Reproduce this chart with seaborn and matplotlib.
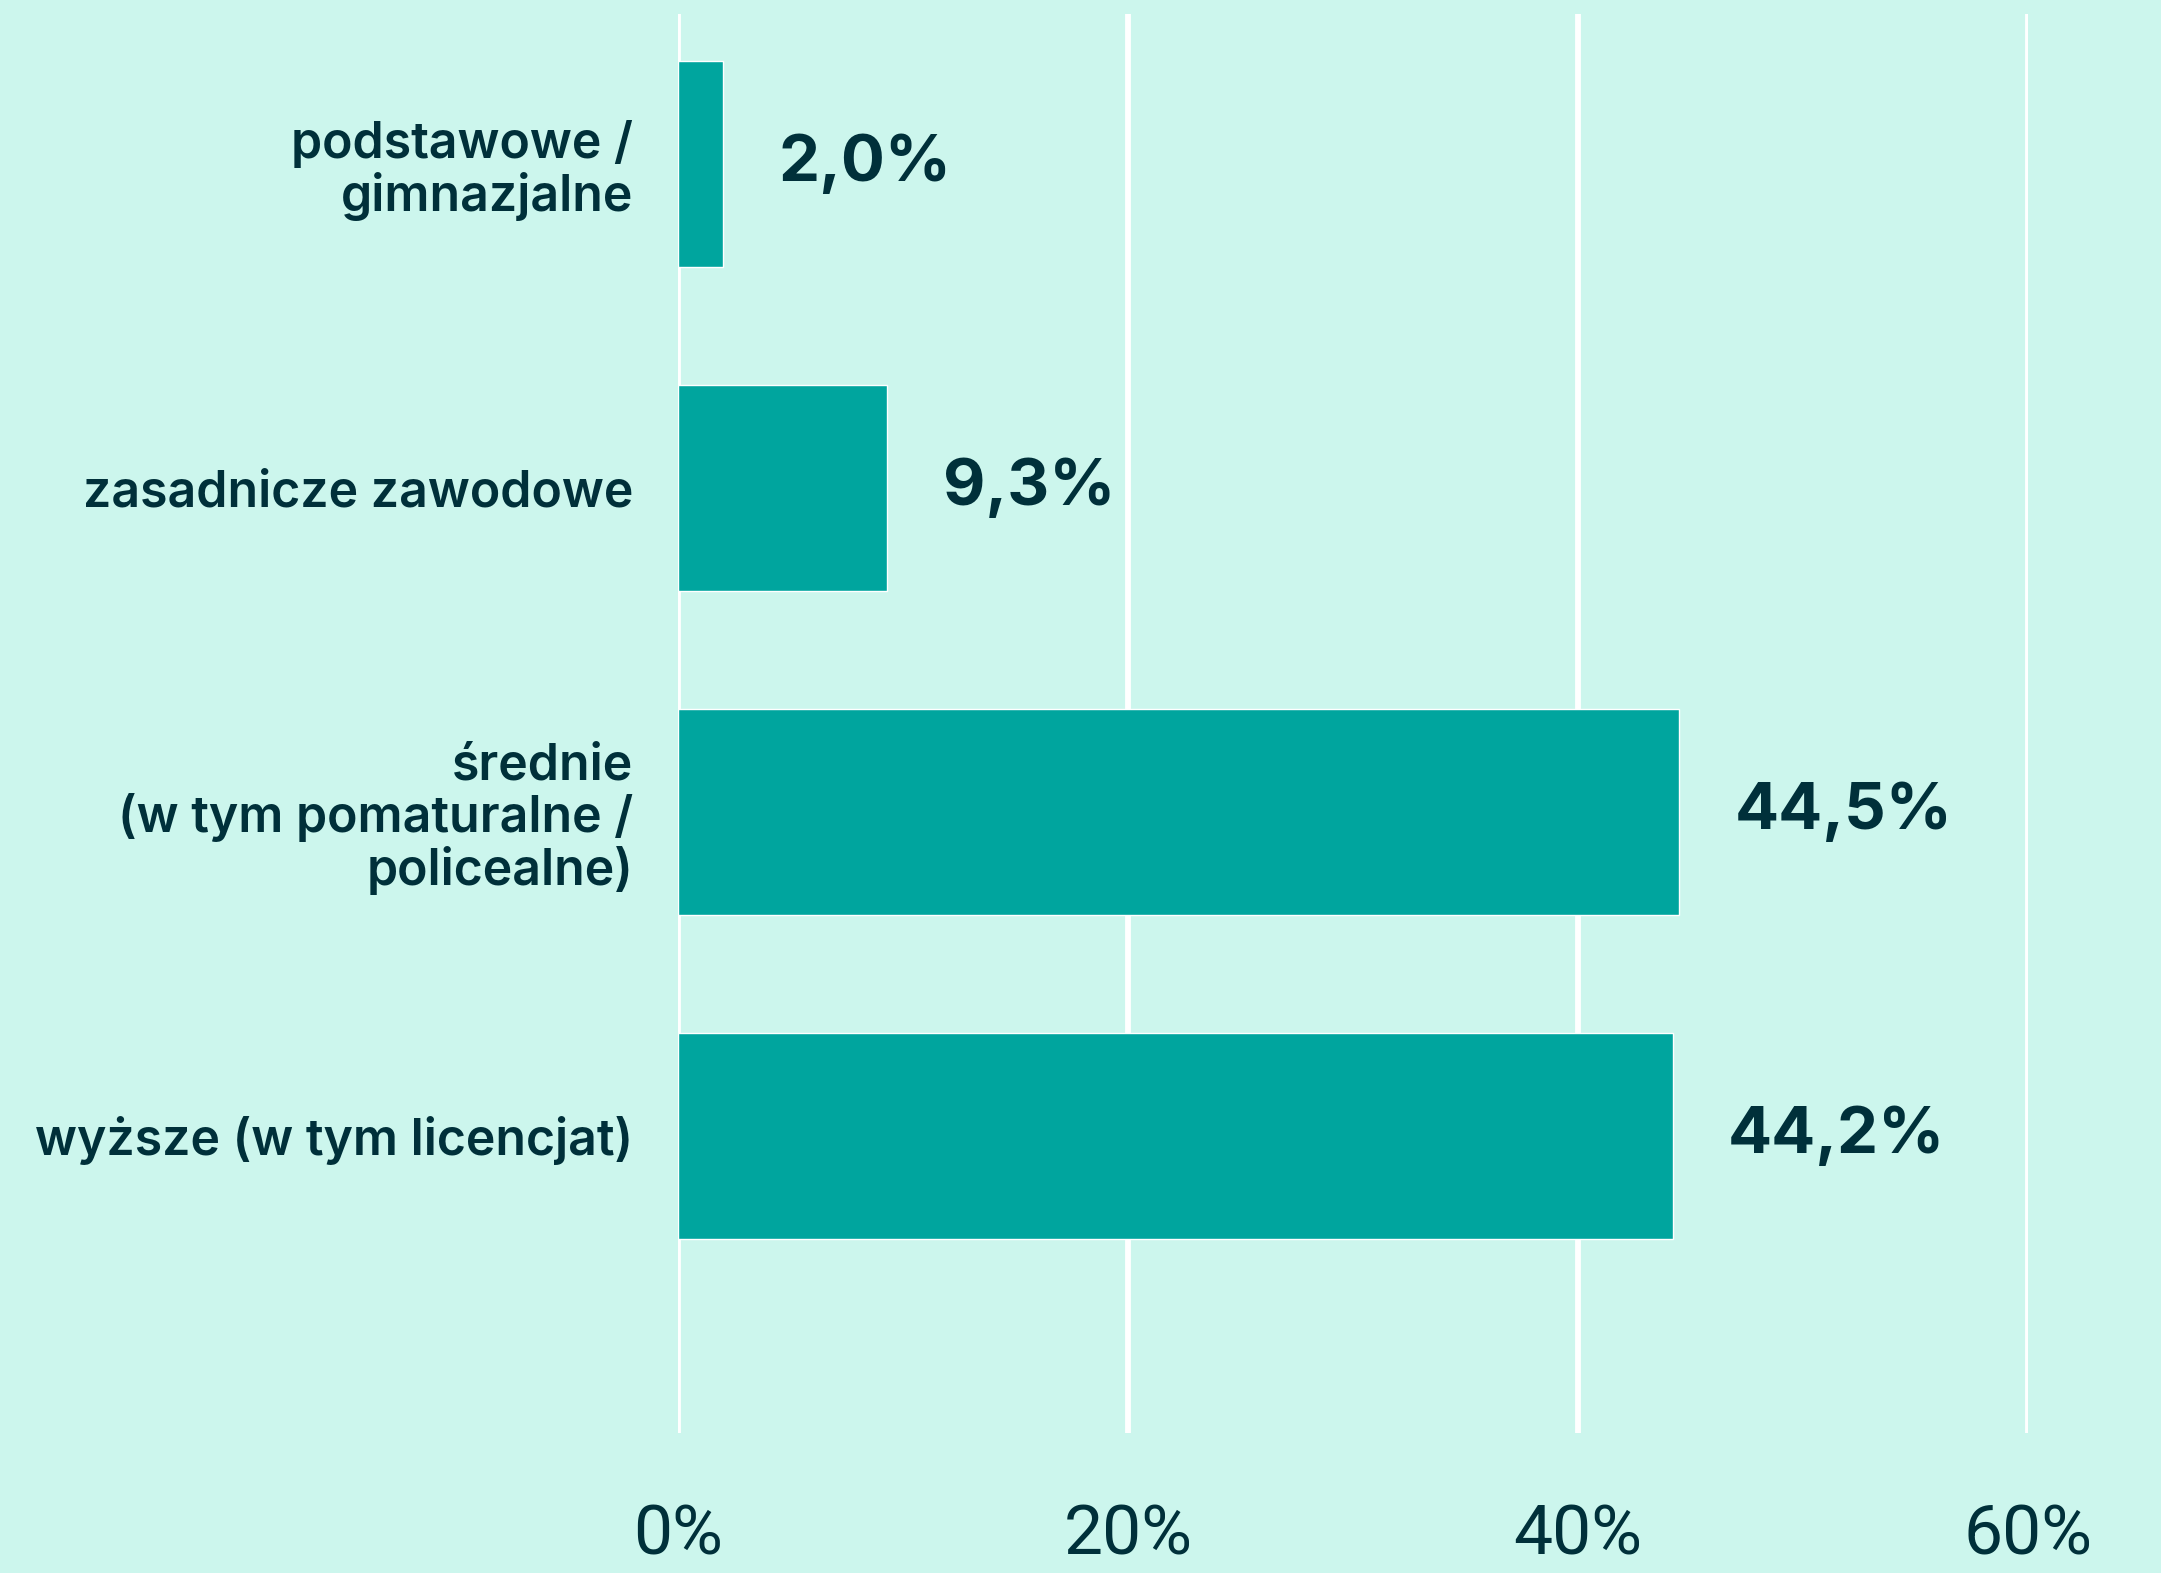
import matplotlib
matplotlib.use("Agg")
import matplotlib.pyplot as plt
import seaborn as sns
import pandas as pd

# data
categories = [
    "podstawowe /\ngimnazjalne",
    "zasadnicze zawodowe",
    "średnie\n(w tym pomaturalne /\npolicealne)",
    "wyższe (w tym licencjat)",
]
shares = [2.0, 9.3, 44.5, 44.2]
xticks = [0, 20, 40, 60]
xtick_labels = ["0%", "20%", "40%", "60%"]

BG = "#CCF6ED"
BAR = "#00A59E"
TXT = "#00303A"

df = pd.DataFrame({"cat": categories, "share": shares})

sns.set_style("white")
plt.rcParams["font.family"] = ["Inter", "DejaVu Sans"]

fig = plt.figure(figsize=(21.61, 15.73), dpi=100, facecolor=BG)
ax = fig.add_axes([0.3137, 0.089, 0.6248, 0.902])
ax.set_facecolor(BG)

sns.barplot(data=df, y="cat", x="share", orient="h", color=BAR,
            width=0.634, saturation=1, ax=ax)

ax.set_xlim(0, 60)
ax.set_ylim(3.917, -0.462)
ax.set_xticks(xticks)
ax.set_xticklabels(xtick_labels, family=["Roboto", "DejaVu Sans"],
                   fontsize=50, color=TXT)
ax.tick_params(axis="x", length=0, pad=50)
ax.tick_params(axis="y", length=0, pad=32)
for lab in ax.get_yticklabels():
    lab.set_fontsize(36)
    lab.set_fontweight("semibold")
    lab.set_color(TXT)
    lab.set_linespacing(1.1)

ax.set_xlabel("")
ax.set_ylabel("")
ax.grid(True, axis="x", color="white", linewidth=4.2)
ax.grid(False, axis="y")
ax.set_axisbelow(True)
for s in ax.spines.values():
    s.set_visible(False)

for i, v in enumerate(shares):
    ax.annotate(f"{v:.1f}".replace(".", ",") + "%", xy=(v, i),
                xytext=(40, 0), textcoords="offset points",
                ha="left", va="center", fontsize=47, fontweight="bold",
                color=TXT)

fig.savefig("out.png", dpi=100, facecolor=BG)
